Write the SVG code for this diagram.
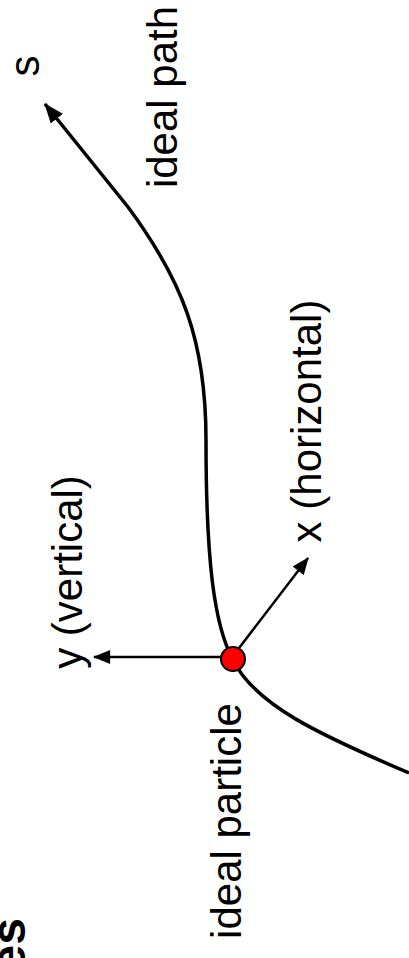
<svg xmlns="http://www.w3.org/2000/svg" width="409" height="958" viewBox="0 0 409 958">
<style>
  text { font-family: "Liberation Sans", Arial, sans-serif; fill: #000; }
  .lbl { font-size: 42px; }
  .title { font-size: 48px; font-weight: bold; }
  .path { fill: none; stroke: #000; stroke-width: 3.5; }
  .axis { fill: none; stroke: #000; stroke-width: 2.5; }
</style>
<defs>
  <marker id="ahBig" markerUnits="userSpaceOnUse" markerWidth="20" markerHeight="16" refX="17" refY="7" orient="auto" viewBox="0 0 18 14">
    <path d="M0,0 L18,7 L0,14 Z" fill="#000"/>
  </marker>
  <marker id="ah" markerUnits="userSpaceOnUse" markerWidth="18" markerHeight="14" refX="15" refY="6.5" orient="auto" viewBox="0 0 16 13">
    <path d="M0,0 L16,6.5 L0,13 Z" fill="#000"/>
  </marker>
</defs>
<g id="title">
  <text class="title" text-anchor="end" transform="translate(25,918) rotate(-90)">es</text>
</g>
<g id="connectors">
  <path id="ideal-path-curve" class="path" d="M 409 773 C 320 735 255 705 233 660 C 214 625 206 560 206 440 C 206 340 182 280 128 207 L 45 104" marker-end="url(#ahBig)"/>
  <line id="y-axis" class="axis" x1="228" y1="657" x2="94" y2="657" marker-end="url(#ah)"/>
  <line id="x-axis" class="axis" x1="236" y1="652" x2="308" y2="558" marker-end="url(#ah)"/>
</g>
<g id="particle">
  <circle cx="233" cy="659" r="12" fill="#ff0000" stroke="#000" stroke-width="2"/>
</g>
<g id="labels">
  <text id="lbl-s" class="lbl" text-anchor="middle" transform="translate(39,66) rotate(-90)">s</text>
  <text id="lbl-ideal-path" class="lbl" text-anchor="middle" transform="translate(177,97) rotate(-90)">ideal path</text>
  <text id="lbl-x" class="lbl" text-anchor="middle" transform="translate(321,421) rotate(-90)">x (horizontal)</text>
  <text id="lbl-y" class="lbl" text-anchor="middle" transform="translate(82,572) rotate(-90)">y (vertical)</text>
  <text id="lbl-particle" class="lbl" text-anchor="middle" transform="translate(241,821) rotate(-90)">ideal particle</text>
</g>
</svg>
